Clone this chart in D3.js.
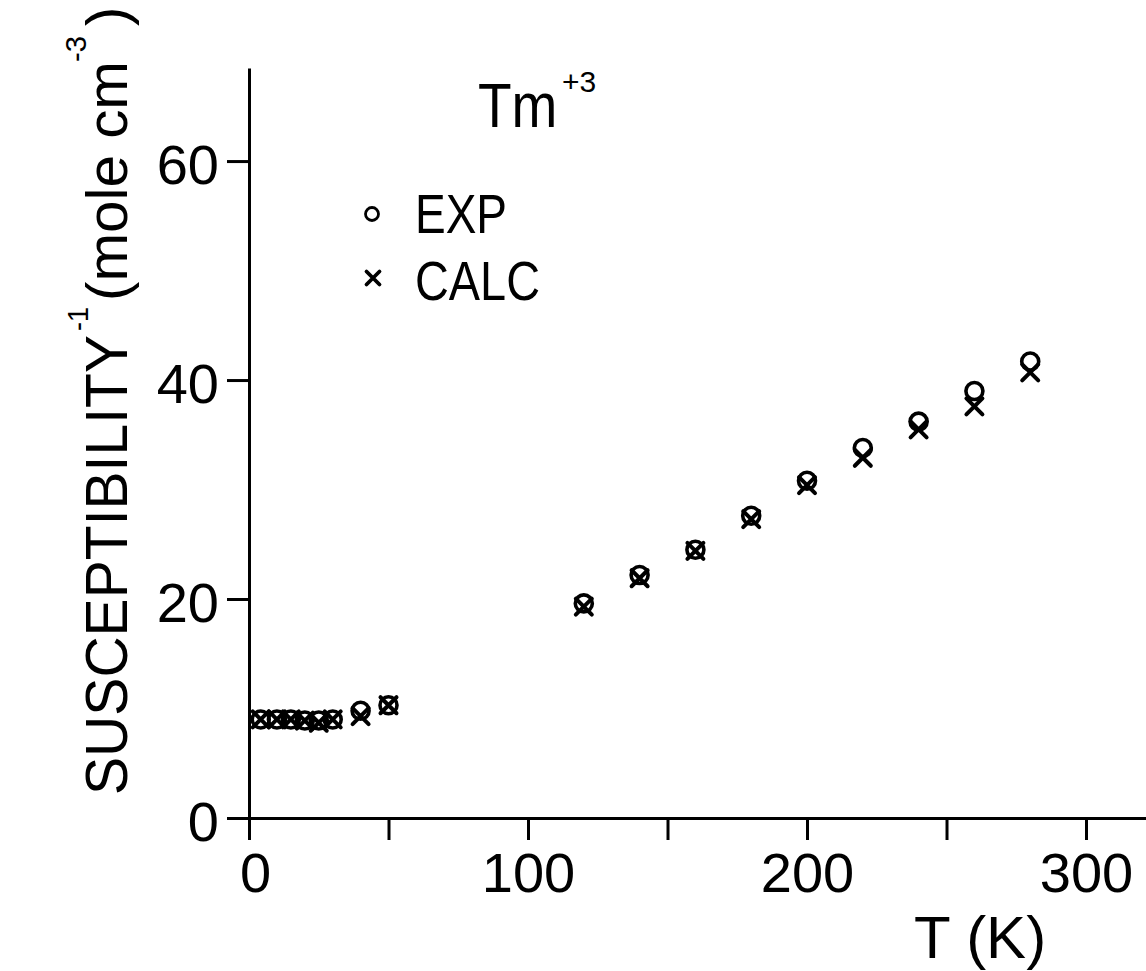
<!DOCTYPE html>
<html>
<head>
<meta charset="utf-8">
<script src="https://cdn.jsdelivr.net/npm/d3@7"></script>
<style>
  html, body { margin: 0; padding: 0; background: #fff; }
  svg { display: block; }
  text { font-family: "Liberation Sans", Arial, sans-serif; fill: #000; }
</style>
</head>
<body>
<svg id="chart" width="1146" height="971"></svg>
<script>
// ---- data ----
const expT  = [4.2, 10, 15, 20, 25, 30, 40, 50, 120, 140, 160, 180, 200, 220, 240, 260, 280];
const expY  = [9.0, 9.0, 9.0, 8.9, 8.9, 9.0, 9.8, 10.3, 19.6, 22.2, 24.5, 27.6, 30.8, 33.8, 36.2, 39.0, 41.7];
const calcT = [4.2, 10, 15, 20, 25, 30, 40, 50, 120, 140, 160, 180, 200, 220, 240, 260, 280];
const calcY = [9.0, 9.0, 9.0, 8.9, 8.7, 9.0, 9.3, 10.3, 19.3, 21.9, 24.4, 27.3, 30.4, 32.9, 35.5, 37.6, 40.7];
const xTicks = [0, 50, 100, 150, 200, 250, 300];
const xTickLabels = ["0", "", "100", "", "200", "", "300"];
const yTicks = [0, 20, 40, 60];
const yTickLabels = ["0", "20", "40", "60"];
const legendLabels = ["EXP", "CALC"];

// ---- layout ----
const svg = d3.select("#chart");
const W = 1146, H = 971;
svg.append("rect").attr("width", W).attr("height", H).attr("fill", "#fff");

const x = d3.scaleLinear().domain([0, 321.5]).range([249, 1146]);
const y = d3.scaleLinear().domain([0, 68.5]).range([818, 68]);

// axes
const xAxis = d3.axisBottom(x)
  .tickValues(xTicks)
  .tickFormat((d, i) => xTickLabels[i])
  .tickSize(22).tickSizeOuter(0).tickPadding(2);
const gx = svg.append("g").attr("transform", `translate(0,${y(0)})`).call(xAxis);

const yAxis = d3.axisLeft(y)
  .tickValues(yTicks)
  .tickFormat((d, i) => yTickLabels[i])
  .tickSize(22).tickSizeOuter(0).tickPadding(8);
const gy = svg.append("g").attr("transform", `translate(${x(0)},0)`).call(yAxis);

[gx, gy].forEach(g => {
  g.select(".domain").attr("stroke", "#000").attr("stroke-width", 3);
  g.selectAll(".tick line").attr("stroke", "#000").attr("stroke-width", 3);
  g.selectAll(".tick text")
    .style("font-family", "'Liberation Sans', Arial, sans-serif")
    .attr("font-size", 56).attr("fill", "#000");
});
gx.selectAll(".tick text").attr("dy", "0.9em");
gx.selectAll(".tick text").filter((d) => d === 0).attr("dx", 6);
gy.selectAll(".tick text").attr("dy", "0.4em");

// data markers
const expData = expT.map((t, i) => ({ t, v: expY[i] }));
const calcData = calcT.map((t, i) => ({ t, v: calcY[i] }));

const cs = 8; // half size of crosses
svg.append("g").selectAll("path").data(calcData).join("path")
  .attr("d", d => {
    const cx = x(d.t), cy = y(d.v);
    return `M${cx - cs},${cy - cs}L${cx + cs},${cy + cs}M${cx - cs},${cy + cs}L${cx + cs},${cy - cs}`;
  })
  .attr("stroke", "#000").attr("stroke-width", 4).attr("fill", "none")
  .attr("stroke-linecap", "round");

svg.append("g").selectAll("circle").data(expData).join("circle")
  .attr("cx", d => x(d.t)).attr("cy", d => y(d.v)).attr("r", 8.5)
  .attr("fill", "none").attr("stroke", "#000").attr("stroke-width", 3.6);

// title Tm+3 (narrow lettering: smaller font stretched vertically)
svg.append("text").attr("transform", "translate(478,127) scale(1,1.16)")
  .attr("font-size", 55).text("Tm");
svg.append("text").attr("x", 562).attr("y", 92).attr("font-size", 30).text("+3");

// legend
svg.append("circle").attr("cx", 372).attr("cy", 214).attr("r", 6.5)
  .attr("fill", "none").attr("stroke", "#000").attr("stroke-width", 2.8);
svg.append("text").attr("x", 415).attr("y", 233).attr("font-size", 55)
  .attr("textLength", 92).attr("lengthAdjust", "spacingAndGlyphs").text(legendLabels[0]);
const lc = 6.5;
svg.append("path")
  .attr("d", `M${373 - lc},${278 - lc}L${373 + lc},${278 + lc}M${373 - lc},${278 + lc}L${373 + lc},${278 - lc}`)
  .attr("stroke", "#000").attr("stroke-width", 3.8).attr("stroke-linecap", "round");
svg.append("text").attr("x", 415).attr("y", 300).attr("font-size", 55)
  .attr("textLength", 125).attr("lengthAdjust", "spacingAndGlyphs").text(legendLabels[1]);

// x axis title
svg.append("text").attr("x", 980).attr("y", 958).attr("font-size", 60)
  .attr("text-anchor", "middle").text("T (K)");

// y axis title (rotated); in rotated coords u = -screenY, v = screenX
const yt = svg.append("g").attr("transform", "rotate(-90)");
yt.append("text").attr("x", -795).attr("y", 127).attr("font-size", 60)
  .attr("textLength", 460).attr("lengthAdjust", "spacingAndGlyphs").text("SUSCEPTIBILITY");
yt.append("text").attr("x", -331).attr("y", 88).attr("font-size", 30)
  .attr("textLength", 24).attr("lengthAdjust", "spacingAndGlyphs").text("-1");
yt.append("text").attr("x", -301).attr("y", 127).attr("font-size", 58)
  .attr("textLength", 240).attr("lengthAdjust", "spacingAndGlyphs").text("(mole cm");
yt.append("text").attr("x", -62).attr("y", 86).attr("font-size", 30)
  .attr("textLength", 26).attr("lengthAdjust", "spacingAndGlyphs").text("-3");
yt.append("text").attr("x", -26).attr("y", 127).attr("font-size", 58).text(")");
</script>
</body>
</html>
